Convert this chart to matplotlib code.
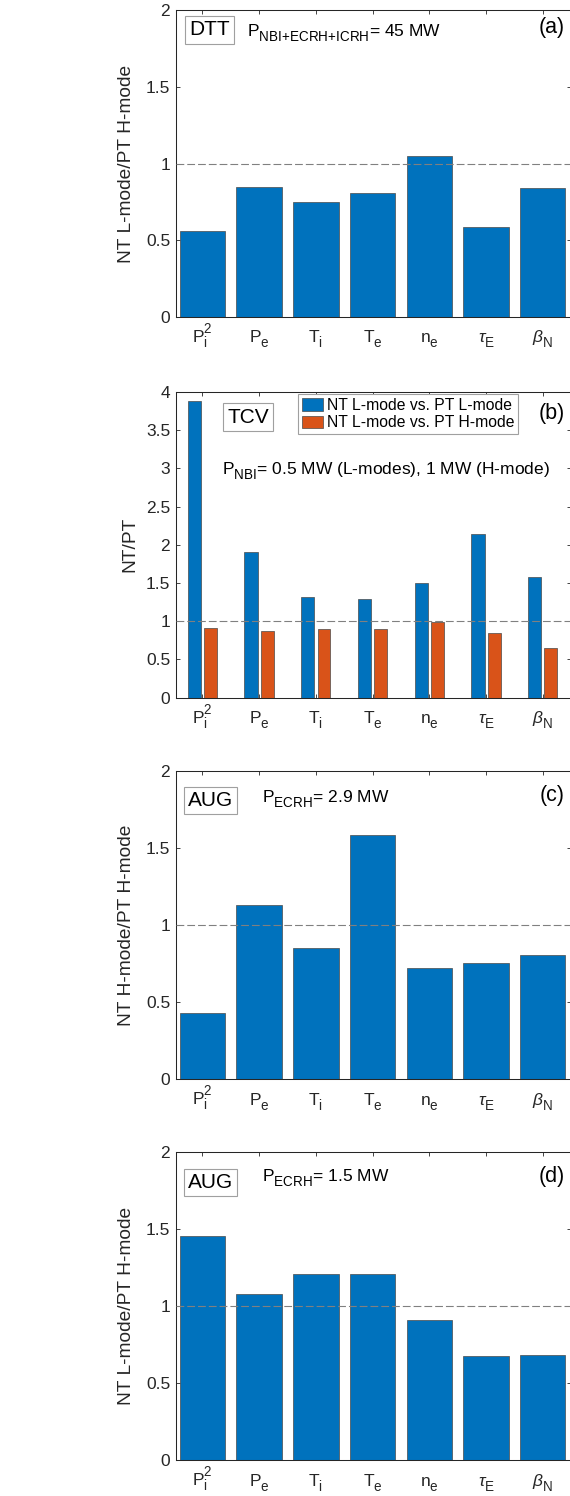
import matplotlib
matplotlib.use('Agg')
import matplotlib.pyplot as plt
import matplotlib._mathtext as _mt
import numpy as np
from matplotlib.ticker import FuncFormatter, MultipleLocator

plt.rcParams['font.family'] = ['Liberation Sans', 'DejaVu Sans']
plt.rcParams['mathtext.fontset'] = 'custom'
plt.rcParams['mathtext.rm'] = 'Liberation Sans'
plt.rcParams['mathtext.it'] = 'Liberation Sans:italic'
plt.rcParams['mathtext.bf'] = 'Liberation Sans:bold'
plt.rcParams['mathtext.sf'] = 'Liberation Sans'

# MATLAB-like TeX sub/superscripts: a bit larger and further from the baseline
_mt.SHRINK_FACTOR = 0.78
_mt.FontConstantsBase.sub1 = 0.6
_mt.FontConstantsBase.sub2 = 0.6
_mt.FontConstantsBase.sup1 = 1.0

# ---------------- data ----------------
categories = [r'$\mathregular{P_i^2}$', r'$\mathregular{P_e}$', r'$\mathregular{T_i}$',
              r'$\mathregular{T_e}$', r'$\mathregular{n_e}$', r'$\tau_{\mathregular{E}}$',
              r'$\beta_{\mathregular{N}}$']

dtt_ratio = [0.56, 0.847, 0.749, 0.806, 1.049, 0.586, 0.840]
tcv_vs_L = [3.88, 1.90, 1.32, 1.293, 1.499, 2.14, 1.577]
tcv_vs_H = [0.906, 0.866, 0.893, 0.893, 0.988, 0.844, 0.644]
aug_29 = [0.429, 1.130, 0.851, 1.584, 0.721, 0.753, 0.807]
aug_15 = [1.456, 1.078, 1.210, 1.210, 0.911, 0.677, 0.682]

legend_labels = ['NT L-mode vs. PT L-mode', 'NT L-mode vs. PT H-mode']
ylabels = ['NT L-mode/PT H-mode', 'NT/PT', 'NT H-mode/PT H-mode', 'NT L-mode/PT H-mode']
machines = ['DTT', 'TCV', 'AUG', 'AUG']
power_texts = [r'$\mathregular{P_{NBI{+}ECRH{+}ICRH}}$= 45 MW',
               r'$\mathregular{P_{NBI}}$= 0.5 MW (L-modes), 1 MW (H-mode)',
               r'$\mathregular{P_{ECRH}}$= 2.9 MW',
               r'$\mathregular{P_{ECRH}}$= 1.5 MW']
panel_tags = ['(a)', '(b)', '(c)', '(d)']
ymaxs = [2, 4, 2, 2]

BLUE = '#0072BD'
ORANGE = '#D95319'
AXC = '#262626'

W, H = 570, 1496
fig = plt.figure(figsize=(W / 100, H / 100), dpi=100)

# axes placement in pixels (top, bottom)
ax_px = [(10, 317), (392, 697.5), (771.3, 1079.3), (1152.3, 1460.3)]
left_px, right_px = 175.7, 571.1

# annotation placement (axes fraction) per panel
box_pos = [(0.0855, 0.935), (0.184, 0.918), (0.088, 0.905), (0.088, 0.902)]
ptxt_pos = [(0.180, 0.912), (0.117, 0.728), (0.2175, 0.898), (0.2175, 0.905)]
tag_pos = [(0.9846, 0.925), (0.9846, 0.913), (0.9846, 0.905), (0.9846, 0.905)]
ylab_x = [127, 130, 127, 127]

x = np.arange(1, len(categories) + 1)
axes = []
for i, (t, b) in enumerate(ax_px):
    ax = fig.add_axes([left_px / W, 1 - b / H, (right_px - left_px) / W, (b - t) / H])
    axes.append(ax)
    if i == 1:
        ax.bar(x - 0.143, tcv_vs_L, width=0.235, color=BLUE, edgecolor='#4a4a4a',
               linewidth=0.5, zorder=2, label=legend_labels[0])
        ax.bar(x + 0.143, tcv_vs_H, width=0.225, color=ORANGE, edgecolor='#4a4a4a',
               linewidth=0.5, zorder=2, label=legend_labels[1])
        leg = ax.legend(loc='upper left', bbox_to_anchor=(0.309, 0.9935), fontsize=11.3,
                        frameon=True, fancybox=False, edgecolor='#a0a0a0', borderaxespad=0,
                        borderpad=0.25, handlelength=1.35, handleheight=0.83,
                        handletextpad=0.26, labelspacing=0.15, framealpha=1)
        leg.get_frame().set_linewidth(0.8)
    else:
        vals = {0: dtt_ratio, 2: aug_29, 3: aug_15}[i]
        ax.bar(x, vals, width=0.8, color=BLUE, edgecolor='#4a4a4a', linewidth=0.5, zorder=2)

    ax.axhline(1, color='#808080', lw=0.8, dashes=(7, 2.7), zorder=3)
    ax.set_xlim(0.53, 7.5)
    ax.set_ylim(0, ymaxs[i])
    ax.yaxis.set_major_locator(MultipleLocator(0.5))
    ax.yaxis.set_major_formatter(FuncFormatter(lambda v, p: f'{v:g}'))
    ax.set_xticks(x)
    ax.set_xticklabels(categories)
    ax.tick_params(direction='in', length=3, width=0.6, top=True, right=True,
                   color=AXC, labelcolor=AXC, labelsize=12.5)
    ax.tick_params(axis='y', pad=4)
    ax.tick_params(axis='x', pad=18.7)
    for lbl in ax.get_xticklabels():
        lbl.set_va('baseline')
    for sp in ax.spines.values():
        sp.set_color(AXC)
        sp.set_linewidth(0.75)
    ax.set_ylabel(ylabels[i], fontsize=13.8, color=AXC, va='center', ha='center')
    ax.yaxis.set_label_coords((ylab_x[i] - left_px) / (right_px - left_px), 0.5)

    ax.text(*box_pos[i], machines[i], transform=ax.transAxes, ha='center', va='center',
            fontsize=15, color='black', zorder=5,
            bbox=dict(boxstyle='square,pad=0.2', fc='white', ec='#a0a0a0', lw=0.8))
    ax.text(*ptxt_pos[i], power_texts[i], transform=ax.transAxes, ha='left', va='baseline',
            fontsize=12.5, color='black', zorder=5)
    ax.text(*tag_pos[i], panel_tags[i], transform=ax.transAxes, ha='right', va='baseline',
            fontsize=15.5, color='black', zorder=5)

fig.savefig('out.png', dpi=100)
